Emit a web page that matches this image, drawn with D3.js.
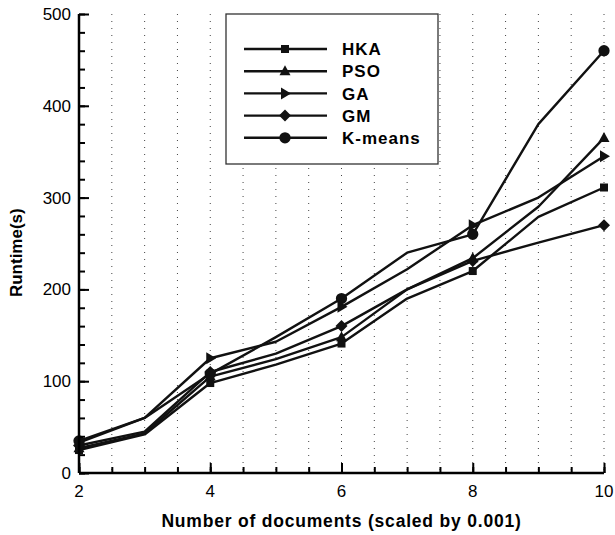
<!DOCTYPE html>
<html>
<head>
<meta charset="utf-8">
<script src="https://cdn.jsdelivr.net/npm/d3@7"></script>
<style>
  body { margin: 0; background: #fff; }
  svg text { font-family: "Liberation Sans", Arial, Helvetica, sans-serif; }
</style>
</head>
<body>
<div id="chart"></div>
<script>
// Data
const docs = [2, 3, 4, 5, 6, 7, 8, 9, 10];
const hka = [25, 42, 98, 118, 141, 190, 220, 279, 311];
const pso = [27, 43, 105, 124, 148, 200, 234, 290, 365];
const ga = [33, 60, 125, 143, 181, 222, 270, 300, 345];
const gm = [30, 45, 110, 130, 160, 200, 231, 251, 270];
const kmeans = [35, 60, 108, 148, 190, 240, 260, 380, 460];
const seriesNames = ["HKA", "PSO", "GA", "GM", "K-means"];
const seriesValues = [hka, pso, ga, gm, kmeans];
const markers = ["square", "triangle", "right", "diamond", "circle"];
const xTicks = [2, 4, 6, 8, 10];
const yTicks = [0, 100, 200, 300, 400, 500];

const width = 615, height = 535;
const margin = { top: 14, right: 11, bottom: 62, left: 79 };

const svg = d3.select("#chart").append("svg")
    .attr("width", width)
    .attr("height", height);

const x = d3.scaleLinear().domain([2, 10]).range([margin.left, width - margin.right]);
const y = d3.scaleLinear().domain([0, 500]).range([height - margin.bottom, margin.top]);

// Dotted vertical grid every 0.5
svg.append("g")
    .selectAll("line")
    .data(d3.range(2.5, 10.01, 0.5))
    .enter().append("line")
    .attr("x1", d => x(d)).attr("x2", d => x(d))
    .attr("y1", y(500)).attr("y2", y(0))
    .attr("stroke", "#444")
    .attr("stroke-width", 1)
    .attr("stroke-dasharray", "1,6");

// Marker shapes
function markerPath(type) {
    switch (type) {
        case "square": return "M-4,-4H4V4H-4Z";
        case "triangle": return "M0,-6L5.5,4L-5.5,4Z";
        case "right": return "M-4,-6L6,0L-4,6Z";
        case "diamond": return "M0,-6L6,0L0,6L-6,0Z";
        default: return d3.symbol().type(d3.symbolCircle).size(100)();
    }
}

const line = d3.line()
    .x((d, i) => x(docs[i]))
    .y(d => y(d));

// Series
seriesValues.forEach((vals, k) => {
    svg.append("path")
        .datum(vals)
        .attr("fill", "none")
        .attr("stroke", "#111")
        .attr("stroke-width", 2.4)
        .attr("stroke-linejoin", "round")
        .attr("d", line);

    svg.append("g")
        .selectAll("path")
        .data(vals.map((v, i) => [docs[i], v]).filter(d => d[0] % 2 === 0))
        .enter().append("path")
        .attr("transform", d => `translate(${x(d[0])},${y(d[1])})`)
        .attr("d", markerPath(markers[k]))
        .attr("fill", "#111");
});

// Axes (ticks pointing inward)
const xAxis = svg.append("g")
    .attr("transform", `translate(0,${y(0)})`);
xAxis.append("g")
    .call(d3.axisTop(x).tickValues(d3.range(2, 10.01, 0.5)).tickSize(6).tickFormat(""))
    .call(g => g.select(".domain").remove());
xAxis.append("g")
    .call(d3.axisTop(x).tickValues(xTicks).tickSize(10).tickFormat(""))
    .call(g => g.select(".domain").remove());
xAxis.append("line")
    .attr("x1", x(2)).attr("x2", x(10))
    .attr("stroke", "#000").attr("stroke-width", 2.5);
xAxis.selectAll(".tick line").attr("stroke", "#000").attr("stroke-width", 2);
xAxis.selectAll(".xlabel")
    .data(xTicks)
    .enter().append("text")
    .attr("x", d => x(d))
    .attr("y", 24)
    .attr("text-anchor", "middle")
    .attr("font-size", 17)
    .text(d => d);

const yAxis = svg.append("g")
    .attr("transform", `translate(${x(2)},0)`);
yAxis.append("g")
    .call(d3.axisRight(y).tickValues(d3.range(0, 501, 20)).tickSize(6).tickFormat(""))
    .call(g => g.select(".domain").remove());
yAxis.append("g")
    .call(d3.axisRight(y).tickValues(yTicks).tickSize(10).tickFormat(""))
    .call(g => g.select(".domain").remove());
yAxis.append("line")
    .attr("y1", y(0)).attr("y2", y(500))
    .attr("stroke", "#000").attr("stroke-width", 2.5);
yAxis.selectAll(".tick line").attr("stroke", "#000").attr("stroke-width", 2);
yAxis.selectAll(".ylabel")
    .data(yTicks)
    .enter().append("text")
    .attr("x", -8)
    .attr("y", d => y(d))
    .attr("dy", "0.35em")
    .attr("text-anchor", "end")
    .attr("font-size", 17)
    .text(d => d);

// Axis titles
svg.append("text")
    .attr("x", x(6))
    .attr("y", 527)
    .attr("text-anchor", "middle")
    .attr("font-size", 17.5)
    .attr("font-weight", "bold")
    .attr("letter-spacing", 0.8)
    .text("Number of documents (scaled by 0.001)");

svg.append("text")
    .attr("transform", `translate(22,${y(240)}) rotate(-90)`)
    .attr("text-anchor", "middle")
    .attr("font-size", 17)
    .attr("font-weight", "bold")
    .text("Runtime(s)");

// Legend
const legend = svg.append("g").attr("transform", "translate(226,14)");
legend.append("rect")
    .attr("width", 212).attr("height", 150)
    .attr("fill", "#fff")
    .attr("stroke", "#333")
    .attr("stroke-width", 1.3);

const item = legend.selectAll(".item")
    .data(seriesNames)
    .enter().append("g")
    .attr("transform", (d, i) => `translate(0,${35 + i * 22.2})`);
item.append("line")
    .attr("x1", 18).attr("x2", 101)
    .attr("stroke", "#111").attr("stroke-width", 2.4);
item.append("path")
    .attr("transform", "translate(59,0)")
    .attr("d", (d, i) => markerPath(markers[i]))
    .attr("fill", "#111");
item.append("text")
    .attr("x", 116)
    .attr("dy", "0.36em")
    .attr("font-size", 17)
    .attr("font-weight", "bold")
    .attr("letter-spacing", 1)
    .text(d => d);
</script>
</body>
</html>
